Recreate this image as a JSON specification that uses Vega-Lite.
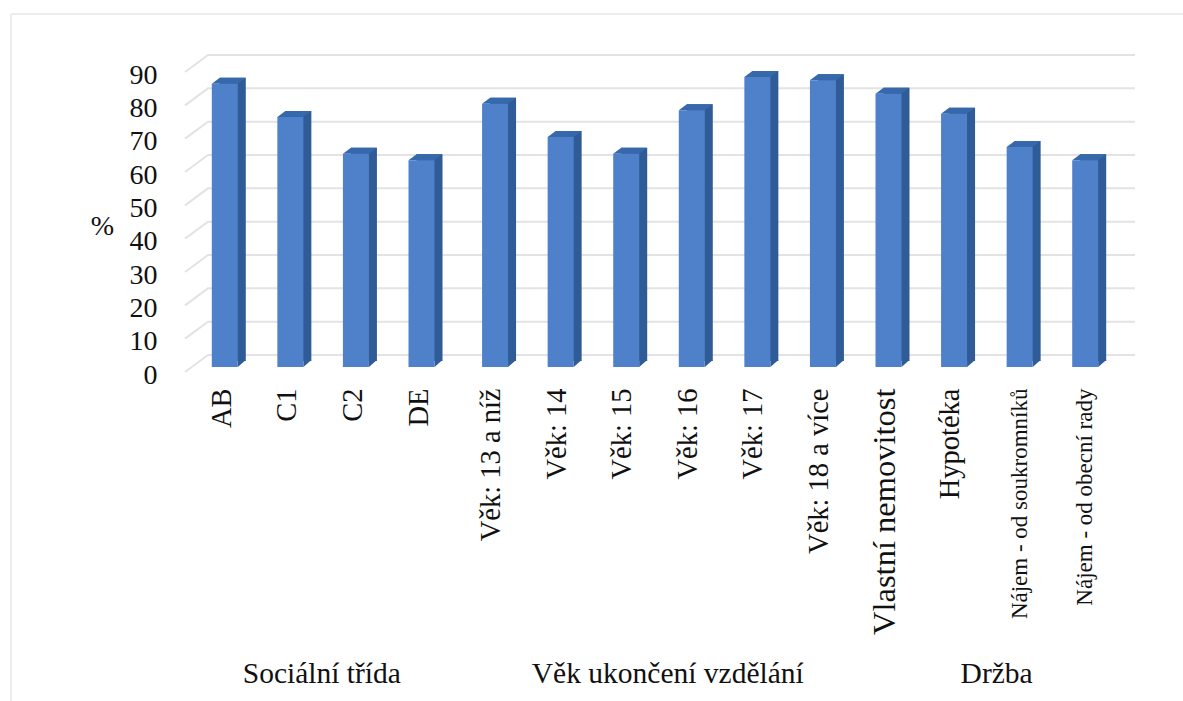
{"$schema":"https://vega.github.io/schema/vega-lite/v6.json","autosize":"none","width":927,"height":300,"padding":{"left":208,"top":55,"right":48,"bottom":346},"background":"white","config":{"view":{"stroke":null},"text":{"font":"Liberation Serif"},"axisY":{"titleAngle":0,"titleFont":"Liberation Serif","titleFontWeight":"normal","titleFontSize":28,"titleColor":"#111111","titleX":-106,"titleY":185,"domain":false,"ticks":false,"grid":false,"labelFont":"Liberation Serif","labelFontSize":28,"labelColor":"#111111","labelPadding":51,"labelOffset":20,"labelOverlap":false,"labelBound":false,"labelFlush":false}},"datasets":{"bars":[{"kategorie":"AB","procento":85,"skupina":"S"},{"kategorie":"C1","procento":75,"skupina":"S"},{"kategorie":"C2","procento":64,"skupina":"S"},{"kategorie":"DE","procento":62,"skupina":"S"},{"kategorie":"Věk: 13 a níž","procento":79,"skupina":"V"},{"kategorie":"Věk: 14","procento":69,"skupina":"V"},{"kategorie":"Věk: 15","procento":64,"skupina":"V"},{"kategorie":"Věk: 16","procento":77,"skupina":"V"},{"kategorie":"Věk: 17","procento":87,"skupina":"V"},{"kategorie":"Věk: 18 a více","procento":86,"skupina":"V"},{"kategorie":"Vlastní nemovitost","procento":82,"skupina":"D"},{"kategorie":"Hypotéka","procento":76,"skupina":"D"},{"kategorie":"Nájem - od soukromníků","procento":66,"skupina":"D"},{"kategorie":"Nájem - od obecní rady","procento":62,"skupina":"D"}],"ticks":[{"t":0},{"t":10},{"t":20},{"t":30},{"t":40},{"t":50},{"t":60},{"t":70},{"t":80},{"t":90}]},"encoding":{"x":{"field":"kategorie","type":"nominal","sort":null,"scale":{"range":[-8,910],"paddingInner":0,"paddingOuter":0},"axis":{"title":null,"domain":false,"ticks":false,"labelAngle":-90,"labelAlign":"right","labelBaseline":"middle","labelPadding":33,"labelOverlap":false,"labelLimit":0,"labelFont":"Liberation Serif","labelColor":"#111111","labelFontSize":{"expr":"indexof(datum.label,'Nájem')==0?23:(datum.label=='Vlastní nemovitost'?32.5:28.5)"},"labelOffset":{"expr":"indexof(datum.label,'Nájem')==0?0:(indexof('AB C1 C2 DE',datum.label)>=0?-11:-4)"}}}},"layer":[{"data":{"name":"ticks"},"mark":{"type":"point","filled":false,"size":4,"stroke":"#e3e3e3","strokeWidth":2,"opacity":1,"shape":"M-23 17L0 0H927"},"encoding":{"x":{"value":0},"y":{"field":"t","type":"quantitative","scale":{"domain":[0,90],"nice":false},"axis":{"title":"%","values":[0,10,20,30,40,50,60,70,80,90]}}}},{"data":{"values":[{"r":"ramecek"}]},"mark":{"type":"point","filled":false,"size":4,"stroke":"#ececec","strokeWidth":2,"opacity":1,"shape":"M-197 -41H975M-197 -41V646"},"encoding":{"x":{"value":0},"y":{"value":0}}},{"data":{"name":"bars"},"mark":{"type":"bar","size":26,"color":"#2f5b96","xOffset":{"expr":"datum.skupina=='S'?0:8"},"x2Offset":{"expr":"datum.skupina=='S'?0:8"},"yOffset":6,"y2Offset":5},"encoding":{"y":{"field":"procento","type":"quantitative","axis":{"title":"%","values":[0,10,20,30,40,50,60,70,80,90]}}}},{"data":{"name":"bars"},"mark":{"type":"point","filled":true,"size":4,"color":"#2f5b96","opacity":1,"xOffset":{"expr":"datum.skupina=='S'?-8:0"},"yOffset":12,"shape":"M13 0L21 -7L13 -7Z"},"encoding":{"y":{"datum":0,"axis":{"title":"%","values":[0,10,20,30,40,50,60,70,80,90]}}}},{"data":{"name":"bars"},"mark":{"type":"point","filled":true,"size":4,"color":"#3768ab","opacity":1,"xOffset":{"expr":"datum.skupina=='S'?-8:0"},"yOffset":12,"shape":"M-13 0L-5 -6L21 -6L13 0Z"},"encoding":{"y":{"field":"procento","type":"quantitative","axis":{"title":"%","values":[0,10,20,30,40,50,60,70,80,90]}}}},{"data":{"name":"bars"},"mark":{"type":"bar","size":26,"color":"#4f81cb","xOffset":{"expr":"datum.skupina=='S'?-8:0"},"x2Offset":{"expr":"datum.skupina=='S'?-8:0"},"yOffset":12,"y2Offset":12},"encoding":{"y":{"field":"procento","type":"quantitative","axis":{"title":"%","values":[0,10,20,30,40,50,60,70,80,90]}}}},{"data":{"values":[{"skupina":"Sociální třída"}]},"mark":{"type":"text","font":"Liberation Serif","fontSize":29.5,"color":"#111111","dx":23.5},"encoding":{"x":{"datum":"C1"},"y":{"datum":-95.8,"axis":{"title":"%","values":[0,10,20,30,40,50,60,70,80,90]}},"text":{"field":"skupina"}}},{"data":{"values":[{"skupina":"Věk ukončení vzdělání"}]},"mark":{"type":"text","font":"Liberation Serif","fontSize":29.5,"color":"#111111","dx":-24},"encoding":{"x":{"datum":"Věk: 16"},"y":{"datum":-95.8,"axis":{"title":"%","values":[0,10,20,30,40,50,60,70,80,90]}},"text":{"field":"skupina"}}},{"data":{"values":[{"skupina":"Držba"}]},"mark":{"type":"text","font":"Liberation Serif","fontSize":29.5,"color":"#111111","dx":-23},"encoding":{"x":{"datum":"Nájem - od soukromníků"},"y":{"datum":-95.8,"axis":{"title":"%","values":[0,10,20,30,40,50,60,70,80,90]}},"text":{"field":"skupina"}}}]}
